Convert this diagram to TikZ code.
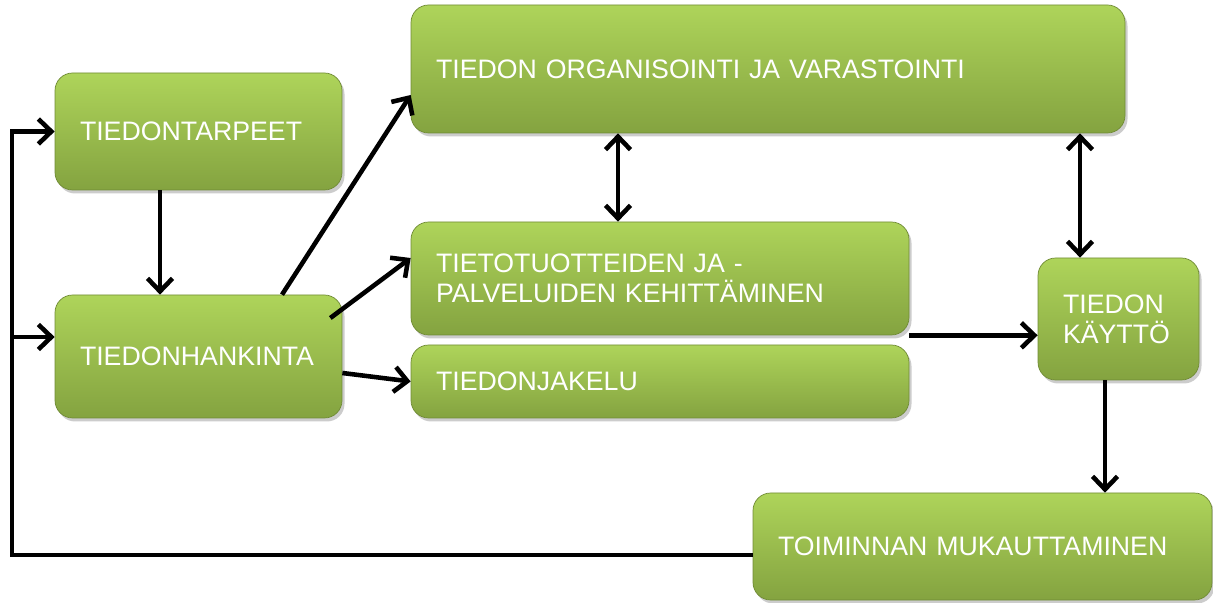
\documentclass[tikz,border=0pt]{standalone}
\usepackage{fontspec}
\setmainfont{Liberation Sans}
\usetikzlibrary{arrows.meta,shadows}
\definecolor{boxtop}{RGB}{174,212,90}
\definecolor{boxbot}{RGB}{132,163,64}

\begin{document}
\begin{tikzpicture}[
  box/.style={rounded corners=10pt, top color=boxtop, bottom color=boxbot,
    draw=boxbot!85!black, line width=0.4pt, text=white, align=left,
    inner xsep=0.5cm, font=\fontsize{15.2}{17}\selectfont,
    drop shadow={opacity=0.4, shadow xshift=0.05cm, shadow yshift=-0.07cm}},
  arr/.style={-{Straight Barb[length=0.26cm,width=0.5cm]}, line width=2.6pt},
  dbl/.style={{Straight Barb[length=0.26cm,width=0.5cm]}-{Straight Barb[length=0.26cm,width=0.5cm]}, line width=2.6pt},
]
\useasboundingbox (0,0) rectangle (24.26,12.04);

\node[box, text width=4.74cm, minimum height=2.34cm] (tarp) at (3.97,9.41) {TIEDONTARPEET};
\node[box, text width=4.74cm, minimum height=2.46cm] (hank) at (3.97,4.91) {TIEDONHANKINTA};
\node[box, text width=13.28cm, minimum height=2.56cm] (org) at (15.36,10.66) {TIEDON ORGANISOINTI JA VARASTOINTI};
\node[box, text width=8.96cm, minimum height=2.26cm] (tuote) at (13.2,6.47) {TIETOTUOTTEIDEN JA -\\PALVELUIDEN KEHITTÄMINEN};
\node[box, text width=8.96cm, minimum height=1.46cm] (jakelu) at (13.2,4.41) {TIEDONJAKELU};
\node[box, text width=2.22cm, minimum height=2.44cm] (kaytto) at (22.37,5.66) {TIEDON\\KÄYTTÖ};
\node[box, text width=8.18cm, minimum height=2.14cm] (toim) at (19.65,1.11) {TOIMINNAN MUKAUTTAMINEN};

\coordinate (fb) at (0.24,0.94);
\coordinate (hankin) at ([yshift=0.39cm]hank.west);

\draw[arr] ([yshift=-0.17cm]toim.west) -- (fb) |- (tarp.west);
\draw[arr] (fb |- hankin) -- (hankin);
\draw[arr] ([xshift=-0.77cm]tarp.south) -- ([xshift=-0.77cm]hank.north);
\draw[arr] ([xshift=1.67cm]hank.north) -- ([yshift=-0.52cm]org.west);
\draw[arr] ([xshift=-0.24cm,yshift=0.77cm]hank.east) -- ([yshift=0.41cm]tuote.west);
\draw[arr] ([yshift=-0.33cm]hank.east) -- (jakelu.west);
\draw[dbl] ([xshift=-0.84cm]tuote.north) -- ([xshift=-0.84cm]tuote.north |- org.south);
\draw[dbl] ([xshift=-0.77cm]kaytto.north) -- ([xshift=-0.77cm]kaytto.north |- org.south);
\draw[arr] (tuote.south east) -- (tuote.south east -| kaytto.west);
\draw[arr] ([xshift=-0.27cm]kaytto.south) -- ([xshift=-0.27cm]kaytto.south |- toim.north);
\end{tikzpicture}
\end{document}
